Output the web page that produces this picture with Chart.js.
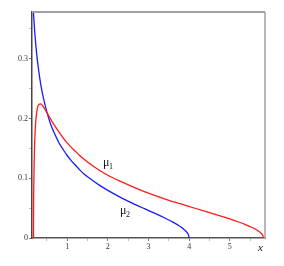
<!DOCTYPE html>
<html>
<head>
<meta charset="UTF-8"/>
<title>mu1 mu2</title>
<script src="https://cdn.jsdelivr.net/npm/chart.js"></script>
<style>
  html, body { margin: 0; padding: 0; background: #fff; }
  #wrap { width: 284px; height: 266px; }
</style>
</head>
<body>
<div id="wrap"><canvas id="myChart" width="284" height="266"></canvas></div>
<script>
    // values
    var mu1X = [0.172, 0.175, 0.18, 0.19, 0.2, 0.22, 0.25, 0.3, 0.35, 0.4, 0.5, 0.6, 0.7, 0.8, 0.9, 1.0, 1.1, 1.2, 1.3, 1.4, 1.6, 1.8, 2.0, 2.3, 2.6, 2.9, 3.2, 3.5, 3.8, 4.1, 4.4, 4.7, 5.0, 5.2, 5.4, 5.55, 5.65, 5.72, 5.78, 5.81, 5.828];
    var mu1Y = [0, 0.059, 0.094, 0.132, 0.158, 0.188, 0.210, 0.223, 0.2245, 0.221, 0.210, 0.198, 0.187, 0.177, 0.1675, 0.159, 0.1515, 0.145, 0.1385, 0.1325, 0.122, 0.113, 0.105, 0.095, 0.086, 0.0776, 0.070, 0.063, 0.057, 0.0506, 0.0444, 0.0383, 0.0318, 0.0272, 0.022, 0.0175, 0.0139, 0.0108, 0.0071, 0.0044, 0];

    var mu2X = [0.15, 0.17, 0.2, 0.25, 0.3, 0.35, 0.4, 0.5, 0.6, 0.7, 0.8, 0.9, 1.0, 1.1, 1.2, 1.3, 1.4, 1.6, 1.8, 2.0, 2.3, 2.6, 2.9, 3.2, 3.4, 3.6, 3.75, 3.85, 3.93, 3.98, 4.0];
    var mu2Y = [0.404, 0.378, 0.347, 0.308, 0.280, 0.257, 0.239, 0.211, 0.189, 0.173, 0.159, 0.148, 0.138, 0.1295, 0.122, 0.1147, 0.108, 0.0975, 0.088, 0.0796, 0.0684, 0.0584, 0.049, 0.0398, 0.0334, 0.0265, 0.0206, 0.0157, 0.0106, 0.0056, 0];

    var xTicks = [0.5, 1, 1.5, 2, 2.5, 3, 3.5, 4, 4.5, 5, 5.5];
    var xTickLabels = ['', '1', '', '2', '', '3', '', '4', '', '5', ''];
    var yTicks = [0, 0.05, 0.1, 0.15, 0.2, 0.25, 0.3, 0.35];
    var yTickLabels = ['0', '', '0.1', '', '0.2', '', '0.3', ''];

    var labelPos = { mu1: [1.88, 0.121], mu2: [2.3, 0.04] };

    function toPoints(xs, ys) {
        return xs.map(function(x, i) { return { x: x, y: ys[i] }; });
    }

    var decor = {
        id: 'decor',
        afterDraw: function(chart) {
            var c = chart.ctx, a = chart.chartArea;
            var sx = chart.scales.x, sy = chart.scales.y;
            c.save();
            // top and right frame
            c.strokeStyle = '#a0a0a0';
            c.lineWidth = 2;
            c.beginPath();
            c.moveTo(a.left, a.top);
            c.lineTo(a.right, a.top);
            c.stroke();
            c.lineWidth = 1.5;
            c.beginPath();
            c.moveTo(a.right, a.top);
            c.lineTo(a.right, a.bottom);
            c.stroke();

            c.fillStyle = '#111';
            c.textBaseline = 'alphabetic';
            c.font = '12px "Liberation Serif"';
            var p1x = sx.getPixelForValue(labelPos.mu1[0]), p1y = sy.getPixelForValue(labelPos.mu1[1]);
            c.fillText('μ', p1x, p1y);
            c.font = '8px "Liberation Serif"';
            c.fillText('1', p1x + 6, p1y + 3);
            c.font = '12px "Liberation Serif"';
            var p2x = sx.getPixelForValue(labelPos.mu2[0]), p2y = sy.getPixelForValue(labelPos.mu2[1]);
            c.fillText('μ', p2x, p2y);
            c.font = '8px "Liberation Serif"';
            c.fillText('2', p2x + 6, p2y + 3);

            c.font = 'italic 11px "Liberation Serif"';
            c.fillText('x', a.right - 7, a.bottom + 13);
            c.restore();
        }
    };

    var ctx = document.getElementById('myChart').getContext('2d');
    var myChart = new Chart(ctx, {
        type: 'scatter',
        data: {
            datasets: [{
                label: 'mu1',
                data: toPoints(mu1X, mu1Y),
                showLine: true,
                borderColor: '#ff1a1a',
                borderWidth: 1.3,
                pointRadius: 0,
                cubicInterpolationMode: 'monotone'
            }, {
                label: 'mu2',
                data: toPoints(mu2X, mu2Y),
                showLine: true,
                borderColor: '#1a1aff',
                borderWidth: 1.3,
                pointRadius: 0,
                cubicInterpolationMode: 'monotone'
            }]
        },
        options: {
            responsive: false,
            animation: false,
            layout: { padding: { top: 12, right: 19, left: 0, bottom: 0 } },
            plugins: { legend: { display: false }, tooltip: { enabled: false } },
            scales: {
                x: {
                    type: 'linear',
                    min: 0.135,
                    max: 5.865,
                    afterFit: function(s) { s.height = 28; },
                    afterBuildTicks: function(s) {
                        s.ticks = xTicks.map(function(v) { return { value: v }; });
                    },
                    border: { color: '#555', width: 1.5 },
                    grid: {
                        drawOnChartArea: false,
                        tickLength: 3,
                        color: function(c) { return c.index % 2 ? '#777' : '#bbb'; }
                    },
                    ticks: {
                        padding: 1,
                        color: '#333',
                        font: { family: 'Liberation Serif', size: 8 },
                        maxRotation: 0,
                        autoSkip: false,
                        callback: function(v, i) { return xTickLabels[i]; }
                    }
                },
                y: {
                    min: 0,
                    max: 0.378,
                    afterFit: function(s) { s.width = 32; },
                    afterBuildTicks: function(s) {
                        s.ticks = yTicks.map(function(v) { return { value: v }; });
                    },
                    border: { color: '#444', width: 1.5 },
                    grid: {
                        drawOnChartArea: false,
                        tickLength: 3,
                        color: function(c) { return c.index % 2 ? '#bbb' : '#777'; }
                    },
                    ticks: {
                        padding: 1,
                        color: '#333',
                        font: { family: 'Liberation Serif', size: 8 },
                        autoSkip: false,
                        callback: function(v, i) { return yTickLabels[i]; }
                    }
                }
            }
        },
        plugins: [decor]
    });
</script>
</body>
</html>
